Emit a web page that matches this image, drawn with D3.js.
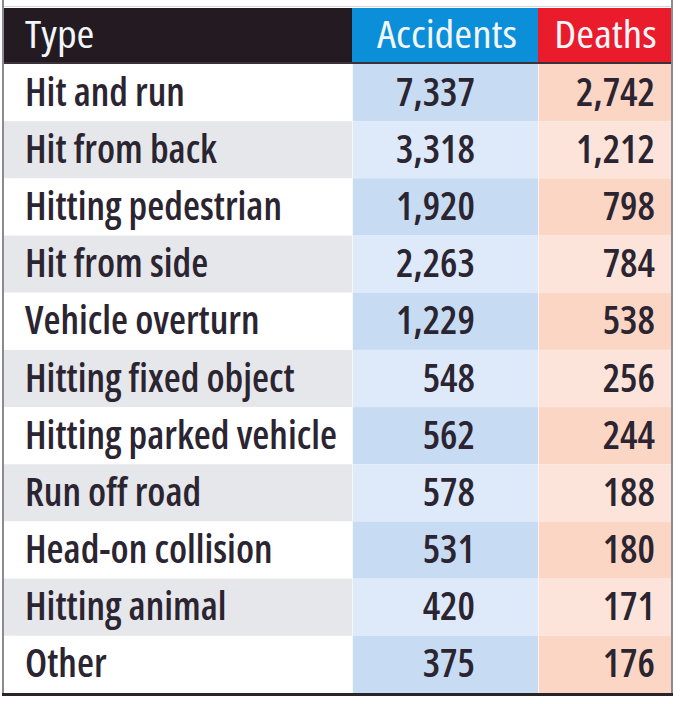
<!DOCTYPE html>
<html>
<head>
<meta charset="utf-8">
<script src="https://cdn.jsdelivr.net/npm/d3@7/dist/d3.min.js"></script>
<style>
  html, body { margin: 0; padding: 0; background: #ffffff; }
  svg { display: block; }
  text { font-family: "Open Sans", "DejaVu Sans", sans-serif; font-stretch: condensed; }
</style>
</head>
<body>
<svg id="chart" width="680" height="704"></svg>
<script>
const headers = ["Type", "Accidents", "Deaths"];
const types = ["Hit and run", "Hit from back", "Hitting pedestrian", "Hit from side", "Vehicle overturn",
  "Hitting fixed object", "Hitting parked vehicle", "Run off road", "Head-on collision", "Hitting animal", "Other"];
const accidents = [7337, 3318, 1920, 2263, 1229, 548, 562, 578, 531, 420, 375];
const deaths = [2742, 1212, 798, 784, 538, 256, 244, 188, 180, 171, 176];

const svg = d3.select("#chart");
const fmt = d3.format(",");

const colX = { type: 4, acc: 352, dea: 538, end: 671 };
const headTop = 8, headBottom = 64, bodyBottom = 693;

const y = d3.scaleBand().domain(types).range([headBottom, bodyBottom]).padding(0);

const oddFill = { type: "#ffffff", acc: "#c7dcf2", dea: "#fbd6c5" };
const evenFill = { type: "#e6e7eb", acc: "#deeafa", dea: "#fde4da" };

const bodySize = 39, bodyWeight = 600, headSize = 38, headWeight = 400;

// measure horizontal condensing factor
function measure(str, size, weight) {
  const t = svg.append("text").attr("font-size", size).attr("font-weight", weight).text(str);
  const w = t.node().getComputedTextLength();
  t.remove();
  return w;
}
const bodySx = 312 / measure("Hitting parked vehicle", bodySize, bodyWeight);
const headSx = 140 / measure("Accidents", headSize, headWeight);

// top light line
svg.append("rect").attr("x", colX.type).attr("y", headTop - 2).attr("width", colX.end - colX.type).attr("height", 1).attr("fill", "#d8d8dc");

// header
svg.append("rect").attr("x", colX.type).attr("y", headTop).attr("width", colX.acc - colX.type).attr("height", headBottom - headTop).attr("fill", "#231b21");
svg.append("rect").attr("x", colX.acc).attr("y", headTop).attr("width", colX.dea - colX.acc).attr("height", headBottom - headTop).attr("fill", "#0b8fd8");
svg.append("rect").attr("x", colX.dea).attr("y", headTop).attr("width", colX.end - colX.dea).attr("height", headBottom - headTop).attr("fill", "#ea1b2b");

function headText(x, anchor, str) {
  svg.append("text").attr("transform", `translate(${x},48) scale(${headSx},1)`)
    .attr("text-anchor", anchor).attr("font-size", headSize).attr("font-weight", headWeight)
    .attr("fill", "#f2f6fb").text(str);
}
headText(25, "start", headers[0]);
headText((colX.acc + colX.dea) / 2 + 2, "middle", headers[1]);
headText((colX.dea + colX.end) / 2 + 1, "middle", headers[2]);

// header bottom line
svg.append("rect").attr("x", colX.type).attr("y", headBottom - 2).attr("width", colX.end - colX.type).attr("height", 2).attr("fill", "#3a3238");

// rows
const rows = svg.append("g").selectAll("g").data(types).join("g")
  .attr("transform", d => `translate(0,${y(d)})`);
rows.each(function(d, i) {
  const g = d3.select(this);
  const f = i % 2 === 0 ? oddFill : evenFill;
  const h = y.bandwidth();
  g.append("rect").attr("x", colX.type).attr("width", colX.acc - colX.type).attr("height", h).attr("fill", f.type);
  g.append("rect").attr("x", colX.acc).attr("width", colX.dea - colX.acc).attr("height", h).attr("fill", f.acc);
  g.append("rect").attr("x", colX.dea).attr("width", colX.end - colX.dea).attr("height", h).attr("fill", f.dea);
  const ty = h / 2 + 13;
  const cell = (x, anchor, str) => g.append("text")
    .attr("transform", `translate(${x},${ty}) scale(${bodySx},1)`)
    .attr("text-anchor", anchor).attr("font-size", bodySize).attr("font-weight", bodyWeight)
    .attr("fill", "#2b2431").text(str);
  cell(25, "start", d);
  cell(475, "end", fmt(accidents[i]));
  cell(655, "end", fmt(deaths[i]));
});

// column separators
svg.append("rect").attr("x", colX.acc).attr("y", headBottom).attr("width", 1).attr("height", bodyBottom - headBottom).attr("fill", "#f4f8fd");
svg.append("rect").attr("x", colX.dea).attr("y", headBottom).attr("width", 1).attr("height", bodyBottom - headBottom).attr("fill", "#fdf2ee");

// outer borders
svg.append("rect").attr("x", 2).attr("y", 0).attr("width", 2).attr("height", 696).attr("fill", "#8c8a90");
svg.append("rect").attr("x", colX.end).attr("y", 0).attr("width", 2).attr("height", 696).attr("fill", "#8c8a90");
svg.append("rect").attr("x", 2).attr("y", bodyBottom).attr("width", colX.end).attr("height", 3).attr("fill", "#2a2429");
</script>
</body>
</html>
